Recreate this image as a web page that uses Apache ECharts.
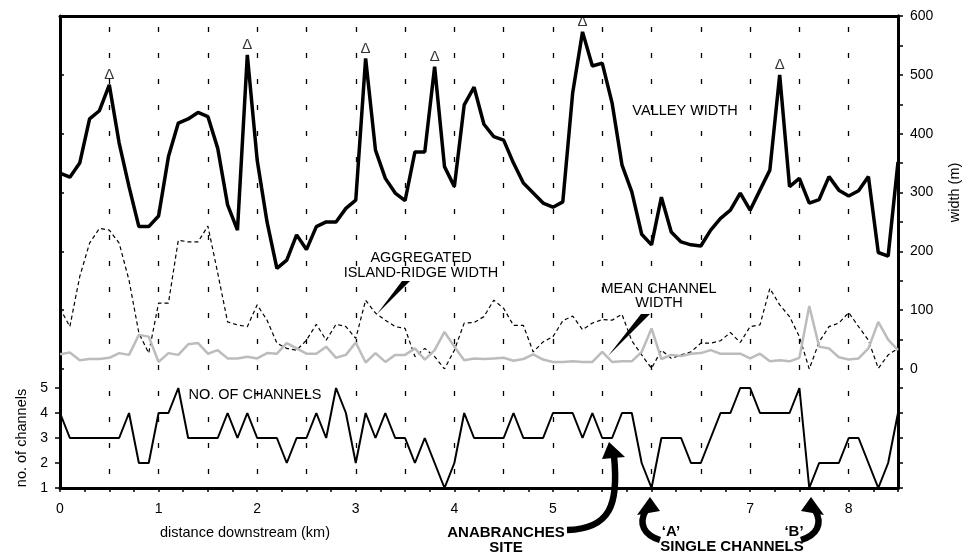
<!DOCTYPE html>
<html>
<head>
<meta charset="utf-8">
<script src="https://cdn.jsdelivr.net/npm/echarts@6/dist/echarts.min.js"></script>
<style>html,body{margin:0;padding:0;background:#fff}#c{width:962px;height:554px}</style>
</head>
<body>
<div id="c"></div>
<script>
// ---- data ----
const distanceKm = [0,0.1,0.2,0.3,0.4,0.5,0.6,0.7,0.8,0.9,1,1.1,1.2,1.3,1.4,1.5,1.6,1.7,1.8,1.9,2,2.1,2.2,2.3,2.4,2.5,2.6,2.7,2.8,2.9,3,3.1,3.2,3.3,3.4,3.5,3.6,3.7,3.8,3.9,4,4.1,4.2,4.3,4.4,4.5,4.6,4.7,4.8,4.9,5,5.1,5.2,5.3,5.4,5.5,5.6,5.7,5.8,5.9,6,6.1,6.2,6.3,6.4,6.5,6.6,6.7,6.8,6.9,7,7.1,7.2,7.3,7.4,7.5,7.6,7.7,7.8,7.9,8,8.1,8.2,8.3,8.4,8.5];
const valleyWidth = [333,326,350,425,439,483,384,310,242,242,260,361,418,425,436,429,375,279,236,534,355,250,171,185,228,203,242,250,250,273,287,528,372,324,299,286,369,369,514,344,310,449,479,416,395,389,350,316,299,282,275,284,469,573,515,520,452,347,301,229,211,292,233,216,211,209,236,256,270,299,270,304,338,500,310,324,282,288,327,304,294,303,327,198,192,352];
const islandRidgeWidth = [103,72,157,214,239,236,214,151,61,27,112,112,219,216,216,243,163,80,75,72,109,83,44,35,32,49,76,49,76,72,52,117,95,83,72,69,21,35,21,0,32,78,79,89,117,103,74,74,29,46,55,82,90,67,78,84,83,93,48,24,1,32,18,24,29,44,44,48,62,45,72,75,137,109,89,55,0,46,72,78,96,72,49,1,24,35];
const meanChannelWidth = [25,28,15,17,17,19,27,24,58,55,12,27,24,42,44,26,32,18,18,21,18,27,26,44,35,26,26,38,19,24,45,11,27,12,24,24,35,16,32,63,38,15,18,17,18,19,14,17,25,16,12,12,13,12,12,29,12,13,13,29,69,17,24,22,26,27,32,26,26,26,18,26,13,15,13,19,107,38,35,20,16,18,35,80,50,32];
const channelCount = [4,3,3,3,3,3,3,4,2,2,4,4,5,3,3,3,3,4,3,4,3,3,3,2,3,3,4,3,5,4,2,4,3,4,3,3,2,3,2,1,2,4,3,3,3,3,4,3,3,3,4,4,4,3,4,3,3,4,4,2,1,3,3,3,2,2,3,4,4,5,5,4,4,4,4,5,1,2,2,2,3,3,2,1,2,4];
const peakDistances = [0.5,1.9,3.1,3.8,5.3,7.3];
const xTickLabels = [0,1,2,3,4,5,7,8];
const widthTicks = [0,100,200,300,400,500,600];
const channelTicks = [1,2,3,4,5];

// ---- build ----
const FONT = "'Liberation Sans', Arial, Helvetica, sans-serif";
const pair = (ys) => distanceKm.map((d, i) => [d, ys[i]]);
const peakData = peakDistances.map(d => [d, valleyWidth[distanceKm.indexOf(d)]]);
const L = 60, R = 64;

const chart = echarts.init(document.getElementById('c'), null, {renderer: 'canvas'});
const txt = (text, x, y, size, bold, lh) => ({
  type: 'text', z: 100,
  style: {
    text: text, x: x, y: y, fill: '#000',
    font: (bold ? 'bold ' : '') + size + 'px ' + FONT,
    textAlign: 'center', textVerticalAlign: 'middle',
    align: 'center', verticalAlign: 'middle',
    lineHeight: lh || size
  }
});
const poly = (pts) => ({type: 'polygon', z: 100, shape: {points: pts}, style: {fill: '#000'}});
const curve = (x1, y1, c1x, c1y, c2x, c2y, x2, y2) => ({
  type: 'bezierCurve', z: 100,
  shape: {x1: x1, y1: y1, cpx1: c1x, cpy1: c1y, cpx2: c2x, cpy2: c2y, x2: x2, y2: y2},
  style: {stroke: '#000', lineWidth: 6.5, fill: null, lineCap: 'butt'}
});
const frameLine = {show: true, onZero: false, lineStyle: {color: '#000', width: 3}};
const tickStyle = {color: '#000', width: 1.5};

const option = {
  animation: false,
  backgroundColor: '#fff',
  textStyle: {fontFamily: FONT},
  grid: [
    {left: L, right: R, top: 16, bottom: 66, containLabel: false, outerBoundsMode: 'none'},      // frame
    {left: L, right: R, top: 16, height: 353, containLabel: false, outerBoundsMode: 'none'},     // widths
    {left: L, right: R, top: 388, height: 100, containLabel: false, outerBoundsMode: 'none'}     // channels
  ],
  xAxis: [
    {gridIndex: 0, type: 'value', min: 0, max: 8.5, interval: 0.5, position: 'top',
     axisLine: frameLine,
     axisTick: {show: false}, axisLabel: {show: false},
     splitLine: {show: true, lineStyle: {color: '#000', width: 1.3, type: [5, 21], dashOffset: 15}}},
    {gridIndex: 1, type: 'value', min: 0, max: 8.5, show: false, axisLine: {onZero: false}},
    {gridIndex: 2, type: 'value', min: 0, max: 8.5, interval: 0.25, position: 'bottom',
     axisLine: frameLine,
     axisTick: {show: true, length: 4, lineStyle: tickStyle},
     axisLabel: {margin: 14, fontSize: 14, color: '#000', fontFamily: FONT,
       formatter: v => { const r = Math.round(v); return (Math.abs(v - r) < 1e-6 && xTickLabels.indexOf(r) >= 0) ? String(r) : ''; }},
     splitLine: {show: false}}
  ],
  yAxis: [
    {gridIndex: 0, type: 'value', min: 0, max: 1, position: 'left',
     axisLine: frameLine, axisTick: {show: false}, axisLabel: {show: false}, splitLine: {show: false}},
    {gridIndex: 0, type: 'value', min: 0, max: 1, position: 'right',
     axisLine: frameLine, axisTick: {show: false}, axisLabel: {show: false}, splitLine: {show: false}},
    {gridIndex: 1, type: 'value', min: widthTicks[0], max: widthTicks[widthTicks.length - 1], interval: 100, position: 'right',
     name: 'width (m)', nameLocation: 'middle', nameRotate: 90, nameGap: 49,
     nameTextStyle: {fontSize: 14.5, color: '#000', fontFamily: FONT},
     axisLine: frameLine,
     axisTick: {show: true, length: 5, lineStyle: tickStyle},
     minorTick: {show: true, splitNumber: 2, length: 5, lineStyle: tickStyle},
     axisLabel: {margin: 12, fontSize: 14, color: '#000', fontFamily: FONT},
     splitLine: {show: false}},
    {gridIndex: 1, type: 'value', min: 0, max: 600, interval: 100, position: 'left',
     axisLine: {show: false, onZero: false},
     axisTick: {show: true, inside: true, length: 4, lineStyle: tickStyle},
     axisLabel: {show: false}, splitLine: {show: false}},
    {gridIndex: 2, type: 'value', min: channelTicks[0], max: channelTicks[channelTicks.length - 1], interval: 1, position: 'left',
     name: 'no. of channels', nameLocation: 'middle', nameRotate: 90, nameGap: 31,
     nameTextStyle: {fontSize: 14.5, color: '#000', fontFamily: FONT},
     axisLine: frameLine,
     axisTick: {show: true, length: 5, lineStyle: tickStyle},
     axisLabel: {margin: 12, fontSize: 14, color: '#000', fontFamily: FONT},
     splitLine: {show: false}},
    {gridIndex: 2, type: 'value', min: 1, max: 5, interval: 1, position: 'right',
     axisLine: frameLine,
     axisTick: {show: true, length: 5, lineStyle: tickStyle},
     axisLabel: {show: false}, splitLine: {show: false}}
  ],
  series: [
    {name: 'island-ridge', type: 'line', xAxisIndex: 1, yAxisIndex: 2, data: pair(islandRidgeWidth),
     symbol: 'none', lineStyle: {color: '#000', width: 1.2, type: [4, 3]}, z: 3},
    {name: 'mean channel', type: 'line', xAxisIndex: 1, yAxisIndex: 2, data: pair(meanChannelWidth),
     symbol: 'none', lineStyle: {color: '#bcbcbc', width: 2.5}, z: 4},
    {name: 'valley', type: 'line', xAxisIndex: 1, yAxisIndex: 2, data: pair(valleyWidth),
     symbol: 'none', lineStyle: {color: '#000', width: 3.5}, z: 5},
    {name: 'peaks', type: 'scatter', xAxisIndex: 1, yAxisIndex: 2, data: peakData,
     symbolSize: 1, itemStyle: {color: 'rgba(0,0,0,0)'}, z: 6,
     label: {show: true, position: 'top', distance: 2, formatter: '\u0394', fontSize: 15, color: '#000', fontFamily: FONT}},
    {name: 'channels', type: 'line', xAxisIndex: 2, yAxisIndex: 4, data: pair(channelCount),
     symbol: 'none', lineStyle: {color: '#000', width: 2}, z: 5}
  ],
  graphic: [
    txt('VALLEY WIDTH', 685, 111, 14.5, false),
    txt('AGGREGATED\nISLAND-RIDGE WIDTH', 421, 265, 14.5, false, 15),
    txt('MEAN CHANNEL\nWIDTH', 659, 296, 14.5, false, 14),
    txt('NO. OF CHANNELS', 255, 395, 14.5, false),
    txt('distance downstream (km)', 245, 533, 14.5, false),
    txt('ANABRANCHES\nSITE', 506, 540, 15, true, 15),
    txt('\u2018A\u2019', 671, 532, 15, true),
    txt('\u2018B\u2019', 794, 532, 15, true),
    txt('SINGLE CHANNELS', 732, 547, 15, true),
    poly([[402, 281], [410, 281], [377, 314]]),
    poly([[641, 314], [650, 314], [608, 356]]),
    curve(567, 530, 610, 529, 619, 505, 614, 456),
    poly([[609, 442], [602, 459], [625, 457]]),
    curve(660, 540, 644, 535, 638, 524, 646, 510),
    poly([[650, 497], [637, 515], [660, 511]]),
    curve(801, 540, 817, 535, 823, 524, 815, 510),
    poly([[811, 497], [801, 511], [824, 515]])
  ]
};
chart.setOption(option);
</script>
</body>
</html>
